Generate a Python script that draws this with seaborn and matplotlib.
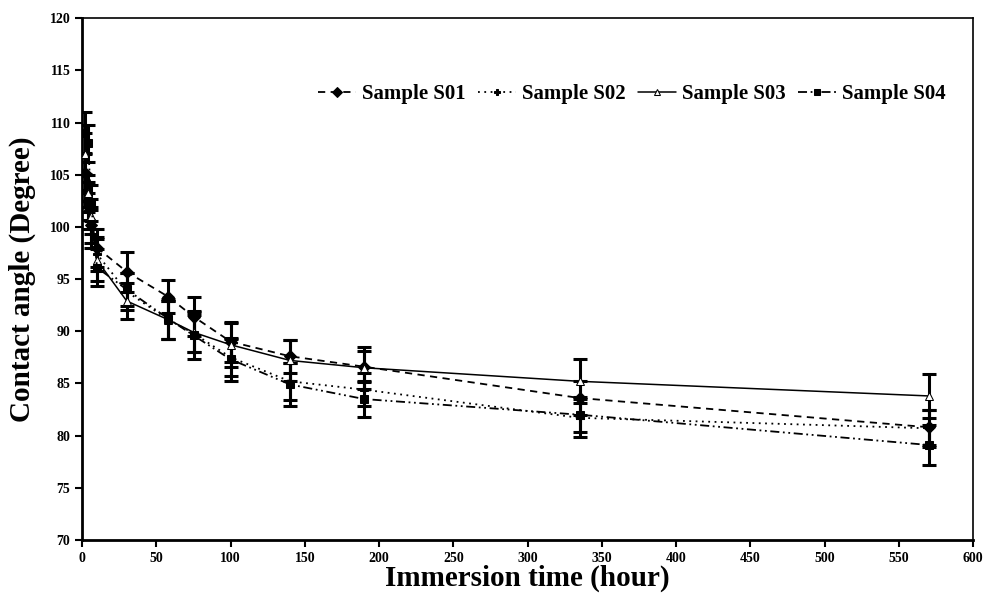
import numpy as np
import pandas as pd
import matplotlib
matplotlib.use("Agg")
import matplotlib.pyplot as plt
import seaborn as sns

# data
hours = [2, 4, 6, 10, 30, 58, 75, 100, 140, 190, 335, 570]
s01 = [105.2, 102.5, 100.2, 98.0, 95.7, 93.3, 91.4, 89.0, 87.6, 86.6, 83.6, 80.8]
s02 = [103.5, 101.5, 99.8, 97.4, 93.8, 91.1, 89.8, 87.5, 85.2, 84.4, 81.7, 80.7]
s03 = [107.0, 103.2, 101.0, 96.8, 92.9, 91.1, 89.9, 88.7, 87.2, 86.5, 85.2, 83.8]
s04 = [109.0, 108.0, 102.3, 96.1, 94.0, 91.2, 89.6, 87.3, 84.9, 83.5, 82.0, 79.1]
err01 = [1.9, 1.8, 1.7, 1.8, 1.9, 1.6, 1.9, 1.9, 1.6, 1.5, 1.6, 1.7]
err02 = [1.6, 1.7, 1.8, 1.6, 1.8, 1.8, 1.8, 1.8, 1.8, 1.6, 1.8, 1.8]
err03 = [2.0, 1.8, 1.7, 2.0, 1.7, 1.8, 1.9, 2.1, 2.0, 2.0, 2.1, 2.1]
err04 = [2.0, 1.8, 1.7, 1.8, 1.6, 1.9, 2.3, 2.1, 2.1, 1.7, 1.7, 1.9]

labels = ['Sample S01', 'Sample S02', 'Sample S03', 'Sample S04']
values = [s01, s02, s03, s04]
errors = [err01, err02, err03, err04]
markers = ['D', 'P', '^', 's']
dashes = [(4, 3), (1, 2.5), (None, None), (5, 2, 1, 2, 1, 2)]

df = pd.DataFrame({
    'hour': hours * 4,
    'angle': s01 + s02 + s03 + s04,
    'sample': [l for l in labels for _ in hours],
})

sns.set_style("ticks")
plt.rcParams['font.family'] = ['Liberation Serif', 'DejaVu Serif']
plt.rcParams['font.weight'] = 'bold'
plt.rcParams['text.color'] = 'black'
plt.rcParams['axes.labelcolor'] = 'black'
plt.rcParams['xtick.color'] = 'black'
plt.rcParams['ytick.color'] = 'black'
plt.rcParams['axes.edgecolor'] = 'black'

fig = plt.figure(figsize=(9.9, 6.06), dpi=100)
ax = fig.add_axes([0.083, 0.109, 0.9, 0.861])

for lab, val, err, mk, ds in zip(labels, values, errors, markers, dashes):
    sub = df[df['sample'] == lab]
    ax.errorbar(hours, val, yerr=err, fmt='none', ecolor='black', elinewidth=2.2,
                capsize=5, capthick=2.2, zorder=2)
    sns.lineplot(data=sub, x='hour', y='angle', ax=ax, color='black',
                 marker=mk, markersize=6 if mk != '^' else 5.5,
                 markerfacecolor='white' if mk == '^' else 'black',
                 markeredgecolor='black', linewidth=1.3 if mk != '^' else 1.1,
                 label=lab, zorder=3)
    ln = ax.get_lines()[-1]
    if ds[0] is not None:
        ln.set_dashes(ds)

ax.set_xlim(0, 600)
ax.set_ylim(70, 120)
ax.set_xticks(np.arange(0, 601, 50))
ax.set_yticks(np.arange(70, 121, 5))
ax.tick_params(axis='both', labelsize=10, direction='out', length=5, width=1.5)
for t in ax.get_xticklabels() + ax.get_yticklabels():
    t.set_fontweight('bold')
ax.set_xlabel('Immersion time (hour)', fontsize=21, fontweight='bold', labelpad=0)
ax.set_ylabel('Contact angle (Degree)', fontsize=21, fontweight='bold', labelpad=10)
for side in ['left', 'bottom']:
    ax.spines[side].set_linewidth(2)
for side in ['top', 'right']:
    ax.spines[side].set_linewidth(1.2)

ax.legend(loc='upper right', bbox_to_anchor=(0.99, 0.91), ncol=4, frameon=False,
          prop={'size': 15, 'weight': 'bold'}, handlelength=1.8, handletextpad=0.3,
          columnspacing=0.6, markerscale=0.8)

fig.savefig('out.png', dpi=100)
